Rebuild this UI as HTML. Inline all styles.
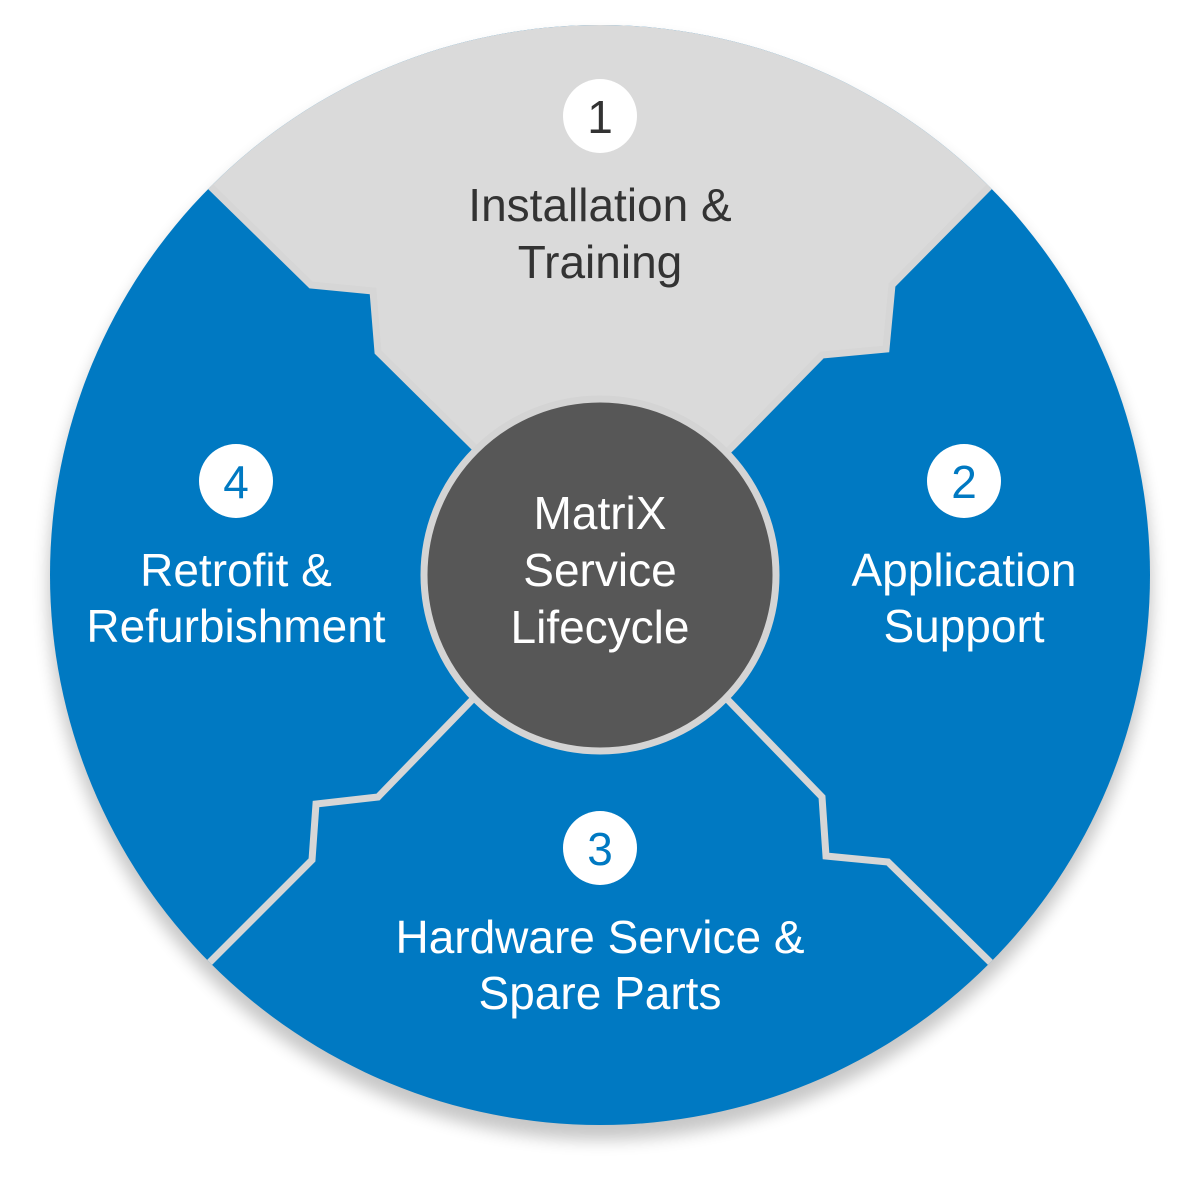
<!DOCTYPE html>
<html><head><meta charset="utf-8"><style>
html,body{margin:0;padding:0;background:#fff;width:1200px;height:1200px;overflow:hidden}
svg{display:block}
text{font-family:"Liberation Sans",sans-serif;font-size:46px;text-anchor:middle;dominant-baseline:central}
</style></head><body>
<svg width="1200" height="1200" viewBox="0 0 1200 1200">
<defs>
<filter id="sh" x="-20%" y="-20%" width="140%" height="140%"><feGaussianBlur stdDeviation="8"/></filter>
<clipPath id="cc"><circle cx="600" cy="575" r="550"/></clipPath>
</defs>
<circle cx="600" cy="588" r="552" fill="#000" opacity="0.22" filter="url(#sh)"/>
<circle cx="600" cy="575" r="550" fill="#0079c2"/>
<g clip-path="url(#cc)">
<polygon fill="#dadada" points="100,76 212,188 311,285 373,291 378,352 470,443 600,575 733,446 822,355 886,349 892,285 988,188 1100,76 1100,0 100,0"/>
<g fill="none" stroke="#d6d6d6" stroke-width="7" stroke-linejoin="miter">
<polyline points="150,126 212,188 311,285 373,291 378,352 470,443 520,493"/>
<polyline points="1050,126 988,188 892,285 886,349 822,355 733,446 680,497"/>
<polyline points="520,650 472,700 378,797 316,804 312,860 212,960 150,1022"/>
<polyline points="680,650 728,700 822,797 826,856 888,862 988,960 1050,1022"/>
</g>
</g>
<circle cx="600" cy="575" r="176" fill="#575757" stroke="#d4d4d4" stroke-width="7"/>
<circle cx="600" cy="116" r="37" fill="#fff"/>
<circle cx="964" cy="481" r="37" fill="#fff"/>
<circle cx="600" cy="848" r="37" fill="#fff"/>
<circle cx="236" cy="481" r="37" fill="#fff"/>
<text x="600" y="117" fill="#333" font-size="42">1</text>
<text x="964" y="482" fill="#0079c2" font-size="42">2</text>
<text x="600" y="849" fill="#0079c2" font-size="42">3</text>
<text x="236" y="482" fill="#0079c2" font-size="42">4</text>
<text x="600" y="205" fill="#333">Installation &amp;</text>
<text x="600" y="262" fill="#333">Training</text>
<text x="964" y="570" fill="#fff">Application</text>
<text x="964" y="626" fill="#fff">Support</text>
<text x="236" y="570" fill="#fff">Retrofit &amp;</text>
<text x="236" y="626" fill="#fff">Refurbishment</text>
<text x="600" y="937" fill="#fff">Hardware Service &amp;</text>
<text x="600" y="993" fill="#fff">Spare Parts</text>
<text x="600" y="513" fill="#fff">MatriX</text>
<text x="600" y="570" fill="#fff">Service</text>
<text x="600" y="627" fill="#fff">Lifecycle</text>
</svg>
</body></html>
